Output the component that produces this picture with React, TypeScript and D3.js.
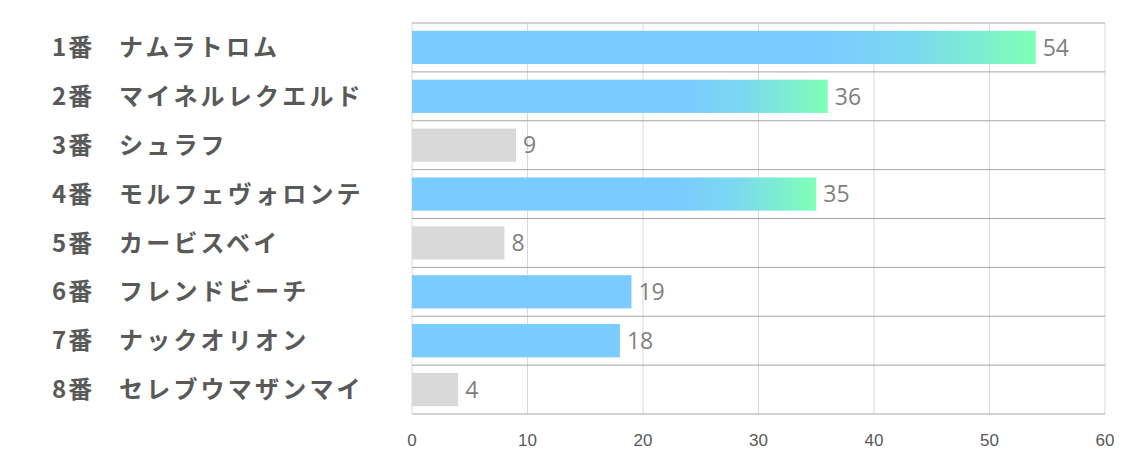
import React from "react";
import * as d3 from "d3";

const numbers = ["1番", "2番", "3番", "4番", "5番", "6番", "7番", "8番"];
const horses = [
  "ナムラトロム",
  "マイネルレクエルド",
  "シュラフ",
  "モルフェヴォロンテ",
  "カービスベイ",
  "フレンドビーチ",
  "ナックオリオン",
  "セレブウマザンマイ",
];
const scores = [54, 36, 9, 35, 8, 19, 18, 4];
const xTicks = [0, 10, 20, 30, 40, 50, 60];

const width = 1134;
const height = 453;
const margin = { top: 23, right: 29, bottom: 39, left: 412 };

const App: React.FC = () => {
  const x = d3
    .scaleLinear()
    .domain([0, 60])
    .range([margin.left, width - margin.right]);

  const y = d3
    .scaleBand<number>()
    .domain(d3.range(scores.length))
    .range([margin.top, height - margin.bottom])
    .paddingInner(0.32)
    .paddingOuter(0.16);

  const rowH = (height - margin.bottom - margin.top) / scores.length;
  const rowTop = (i: number) => margin.top + i * rowH;

  // top scorers get the blue→green fade, mid ones plain blue, the rest grey
  const fillFor = (v: number, i: number) => {
    if (v >= 30) return `url(#grad${i})`;
    if (v >= 10) return "#7ACBFF";
    return "#D9D9D9";
  };

  return (
    <svg
      width={width}
      height={height}
      style={{ position: "absolute", left: 0, top: 0, background: "#fff" }}
    >
      <defs>
        {scores.map((v, i) =>
          v >= 30 ? (
            <linearGradient key={i} id={`grad${i}`} x1="0" x2="1" y1="0" y2="0">
              <stop offset="0" stopColor="#7ACBFF" />
              <stop offset="0.66" stopColor="#7ACBFF" />
              <stop offset="0.8" stopColor="#7BD8F0" />
              <stop offset="1" stopColor="#7FFFB6" />
            </linearGradient>
          ) : null
        )}
      </defs>

      {/* vertical grid */}
      {xTicks.map((t) => (
        <line
          key={t}
          x1={x(t)}
          x2={x(t)}
          y1={margin.top}
          y2={height - margin.bottom}
          stroke="#D9D9D9"
          strokeWidth={1}
        />
      ))}

      {/* row separators */}
      {d3.range(scores.length + 1).map((i) => (
        <line
          key={i}
          x1={margin.left}
          x2={width - margin.right}
          y1={rowTop(i)}
          y2={rowTop(i)}
          stroke="#A6A6A6"
          strokeWidth={1}
        />
      ))}

      {/* bars */}
      {scores.map((v, i) => (
        <g key={i}>
          <rect
            x={x(0)}
            y={y(i)}
            width={x(v) - x(0)}
            height={y.bandwidth()}
            fill={fillFor(v, i)}
          />
          <text
            x={x(v) + 7}
            y={(y(i) ?? 0) + y.bandwidth() / 2}
            dy="0.36em"
            fill="#7F7F7F"
            fontSize={23}
            fontFamily="'Open Sans', 'Noto Sans', sans-serif"
          >
            {v}
          </text>
        </g>
      ))}

      {/* row labels */}
      {horses.map((h, i) => {
        const cy = rowTop(i) + rowH / 2;
        return (
          <g
            key={i}
            fill="#595959"
            fontWeight="bold"
            fontSize={24}
            fontFamily="'Noto Sans CJK JP', sans-serif"
          >
            <text x={52} y={cy} dy="0.36em" letterSpacing={2}>
              {numbers[i]}
            </text>
            <text x={119} y={cy} dy="0.36em" letterSpacing={3.2}>
              {h}
            </text>
          </g>
        );
      })}

      {/* x axis labels */}
      {xTicks.map((t) => (
        <text
          key={t}
          x={x(t)}
          y={446}
          textAnchor="middle"
          fill="#595959"
          fontSize={17}
          fontFamily="'Liberation Sans Narrow', 'Liberation Sans', sans-serif"
        >
          {t}
        </text>
      ))}
    </svg>
  );
};

export default App;
